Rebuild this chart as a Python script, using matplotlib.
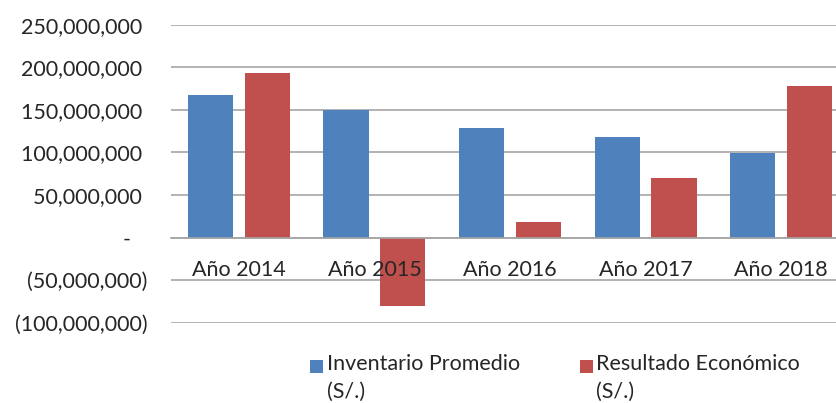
import matplotlib.pyplot as plt
import numpy as np
from matplotlib.ticker import FuncFormatter, MultipleLocator
from matplotlib.legend_handler import HandlerPatch
from matplotlib.patches import Rectangle

plt.rcParams['font.family'] = ['Lato', 'DejaVu Sans']

# data (S/.)
years = ['Año 2014', 'Año 2015', 'Año 2016', 'Año 2017', 'Año 2018']
inventario = [167e6, 150e6, 129e6, 118e6, 99.5e6]
resultado = [193e6, -80e6, 18e6, 70.5e6, 177.5e6]
series_names = ['Inventario Promedio\n(S/.)', 'Resultado Económico\n(S/.)']

blue = '#4F81BD'
red = '#C0504D'
grid_c = '#A6A6A6'
txt_c = '#262626'
fs = 15.5

fig = plt.figure(figsize=(8.36, 4.03), dpi=100)
ax = fig.add_axes([171 / 836, 80.3 / 403, 678 / 836, 298 / 403])

x = np.arange(len(years))
w = 0.333
b1 = ax.bar(x - 0.21, inventario, w, color=blue, label=series_names[0], zorder=2)
b2 = ax.bar(x + 0.21, resultado, w, color=red, label=series_names[1], zorder=2)

ax.set_xlim(-0.5, 4.5)
ax.set_ylim(-100e6, 250e6)
ax.yaxis.set_major_locator(MultipleLocator(50e6))


def fmt(v, pos):
    if abs(v) < 1:
        return '-   '
    if v < 0:
        return f'({-v:,.0f})'
    return f'{v:,.0f} '


ax.yaxis.set_major_formatter(FuncFormatter(fmt))
ax.grid(axis='y', color=grid_c, linewidth=1.2)
ax.yaxis.set_zorder(0.5)
ax.xaxis.set_zorder(5)
for s in ['top', 'right', 'left']:
    ax.spines[s].set_visible(False)
ax.spines['bottom'].set_position(('data', 0))
ax.spines['bottom'].set_color(grid_c)
ax.spines['bottom'].set_linewidth(1.2)
ax.spines['bottom'].set_zorder(4)

ax.set_xticks(x)
ax.set_xticklabels(years)
ax.tick_params(axis='x', length=0, pad=16, labelsize=fs, colors=txt_c)
ax.tick_params(axis='y', length=0, pad=17, labelsize=fs, colors=txt_c)


def top_square(legend, orig_handle, xdescent, ydescent, width, height, fontsize):
    return Rectangle((-xdescent, -ydescent + height - width), width, width)


leg = fig.legend(handles=[b1.patches[0], b2.patches[0]], labels=series_names,
                 loc='upper left', bbox_to_anchor=(291 / 836, 1 - 335 / 403),
                 ncol=2, frameon=False, fontsize=fs, handlelength=0.6, handleheight=2.35,
                 handletextpad=0.15, columnspacing=2.8, labelspacing=0,
                 handler_map={Rectangle: HandlerPatch(patch_func=top_square)})
for t in leg.get_texts():
    t.set_color(txt_c)
    t.set_linespacing(1.45)

fig.savefig('out.png', dpi=100, facecolor='white')
